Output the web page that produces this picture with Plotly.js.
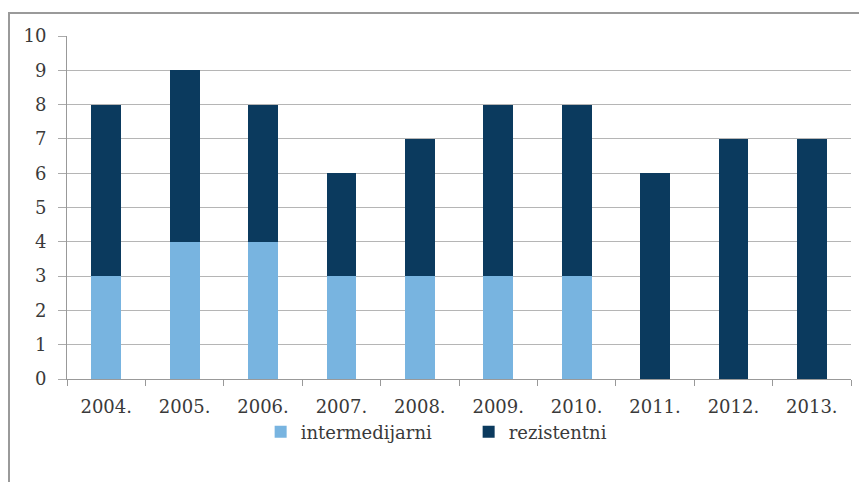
<!DOCTYPE html>
<html><head><meta charset="utf-8">
<script src="https://cdn.plot.ly/plotly-3.0.1.min.js"></script>
<style>
html,body{margin:0;padding:0;background:#fff;}
#wrap{position:relative;width:859px;height:482px;overflow:hidden;}
#chart{width:859px;height:482px;}
#frame{position:absolute;left:8px;top:12px;width:900px;height:600px;border-top:2px solid #9a9a9a;border-left:2px solid #9a9a9a;pointer-events:none;}
</style></head>
<body><div id="wrap"><div id="chart"></div><div id="frame"></div></div>
<script>
const years = ['2004.','2005.','2006.','2007.','2008.','2009.','2010.','2011.','2012.','2013.'];
const intermedijarni = [3,4,4,3,3,3,3,0,0,0];
const rezistentni = [5,5,4,3,4,5,5,6,7,7];
const yTicks = [0,1,2,3,4,5,6,7,8,9,10];

const font = {family:'DejaVu Serif', size:18, color:'#3a3a3a'};
const data = [
  {type:'bar', name:'intermedijarni', x:years, y:intermedijarni, marker:{color:'#78b4e0'}},
  {type:'bar', name:'rezistentni', x:years, y:rezistentni, marker:{color:'#0b3a5e'}}
];
const layout = {
  width:859, height:482,
  margin:{l:66.5, r:7.5, t:36, b:103},
  barmode:'stack', bargap:0.62,
  paper_bgcolor:'#fff', plot_bgcolor:'#fff',
  font:font,
  showlegend:true,
  legend:{orientation:'h', x:0.247, xanchor:'left', y:-0.155, yanchor:'middle', font:font, traceorder:'normal', entrywidth:163, bgcolor:'rgba(0,0,0,0)'},
  xaxis:{type:'category', tickson:'boundaries', ticks:'outside', ticklen:6, tickcolor:'#999', showline:true, linecolor:'#999', linewidth:1, showgrid:false, tickfont:font, ticklabelstandoff:11},
  yaxis:{range:[0,10], tickvals:yTicks, ticks:'outside', ticklen:8, tickcolor:'#aaa', showline:true, linecolor:'#999', gridcolor:'#b5b5b5', gridwidth:1, zeroline:false, tickfont:font, ticklabelstandoff:8}
};
Plotly.newPlot('chart', data, layout, {displayModeBar:false, staticPlot:true});
</script></body></html>
